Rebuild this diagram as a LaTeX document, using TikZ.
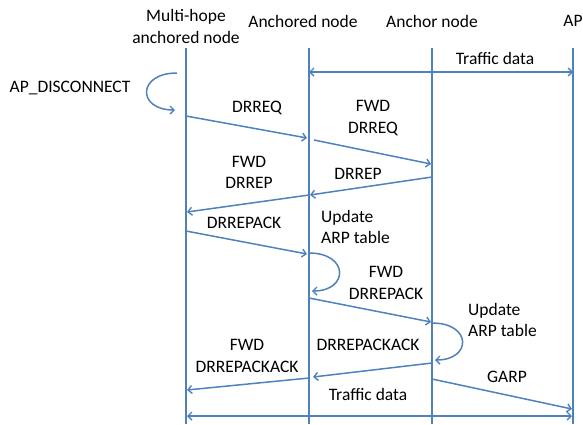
\documentclass[tikz,border=0pt]{standalone}
\usepackage{fontspec}
\setmainfont{Carlito}
\usepackage{tikz}
\usetikzlibrary{arrows.meta}
\definecolor{lineblue}{RGB}{79,129,189}
\newcommand{\msgarrow}{-{Straight Barb[length=4pt,width=8pt,line width=1.4pt]}}
\newcommand{\twoarrow}{{Straight Barb[length=4pt,width=8pt,line width=1.4pt]}-{Straight Barb[length=4pt,width=8pt,line width=1.4pt]}}

\begin{document}
\begin{tikzpicture}[x=1pt,y=-1pt,
        every node/.style={font=\fontsize{17.5}{21.5}\selectfont},
        life/.style={draw=lineblue,line width=1.5pt},
        msg/.style={draw=lineblue,line width=1.5pt,\msgarrow},
        both/.style={draw=lineblue,line width=1.5pt,\twoarrow},
        lbl/.style={align=center,inner sep=0pt},
        note/.style={align=left,inner sep=0pt,anchor=west}]
            \useasboundingbox (0,0) rectangle (583,424);
            % heads
            \node[lbl] (mh) at (186,26.5) {Multi-hope\\anchored node};
            \node[lbl] (ad) at (303,21) {Anchored node};
            \node[lbl] (ar) at (432,21) {Anchor node};
            \node[lbl] (ap) at (573,21) {AP};
            % lifelines
            \coordinate (mh-top) at (186,48);
            \coordinate (mh-bot) at (186,424);
            \coordinate (ad-top) at (309,48);
            \coordinate (ad-bot) at (309,424);
            \coordinate (ar-top) at (432,48);
            \coordinate (ar-bot) at (432,424);
            \coordinate (ap-top) at (573,48);
            \coordinate (ap-bot) at (573,424);
            \draw[life] (mh-top) -- (mh-bot);
            \draw[life] (ad-top) -- (ad-bot);
            \draw[life] (ar-top) -- (ar-bot);
            \draw[life] (ap-top) -- (ap-bot);
            % message end points
            \coordinate (tt-s) at (309,72);
            \coordinate (tt-e) at (573,72);
            \coordinate (dc-s) at (177,73);
            \coordinate (dc-e) at (175,110);
            \coordinate (req-s) at (186,116);
            \coordinate (req-e) at (307,138);
            \coordinate (freq-s) at (314,140);
            \coordinate (freq-e) at (431,164);
            \coordinate (rep-s) at (432,177);
            \coordinate (rep-e) at (310,195);
            \coordinate (frep-s) at (309,195);
            \coordinate (frep-e) at (187,212);
            \coordinate (pack-s) at (186,231);
            \coordinate (pack-e) at (307,254);
            \coordinate (up1-s) at (309,253);
            \coordinate (up1-e) at (312,291);
            \coordinate (fpack-s) at (309,298);
            \coordinate (fpack-e) at (431,322);
            \coordinate (up2-s) at (432,323);
            \coordinate (up2-e) at (435,360);
            \coordinate (ack-s) at (432,363);
            \coordinate (ack-e) at (313,377);
            \coordinate (fack-s) at (309,378);
            \coordinate (fack-e) at (187,390);
            \coordinate (garp-s) at (432,379);
            \coordinate (garp-e) at (572,409);
            \coordinate (tb-s) at (187,416);
            \coordinate (tb-e) at (572,416);
            % messages
            \draw[both] (tt-s) -- (tt-e);
            \draw[msg] (dc-s) .. controls (137,73) and (137,110) .. (dc-e);
            \draw[msg] (req-s) -- (req-e);
            \draw[msg] (freq-s) -- (freq-e);
            \draw[msg] (rep-s) -- (rep-e);
            \draw[msg] (frep-s) -- (frep-e);
            \draw[msg] (pack-s) -- (pack-e);
            \draw[msg] (up1-s) .. controls (349,253) and (349,291) .. (up1-e);
            \draw[msg] (fpack-s) -- (fpack-e);
            \draw[msg] (up2-s) .. controls (472,323) and (472,360) .. (up2-e);
            \draw[msg] (ack-s) -- (ack-e);
            \draw[msg] (fack-s) -- (fack-e);
            \draw[msg] (garp-s) -- (garp-e);
            \draw[both] (tb-s) -- (tb-e);
            % labels
            \node[lbl] (tt-l) at (495,58) {Traffic data};
            \node[lbl] (dc-l) at (70,88) {AP\_DISCONNECT};
            \node[lbl] (req-l) at (257,108) {DRREQ};
            \node[lbl] (freq-l) at (373,118) {FWD\\DRREQ};
            \node[lbl] (rep-l) at (358,174) {DRREP};
            \node[lbl] (frep-l) at (249,172.5) {FWD\\DRREP};
            \node[lbl] (pack-l) at (244,223) {DRREPACK};
            \node[note] (up1-l) at (321,227) {Update\\ARP table};
            \node[lbl] (fpack-l) at (386,283) {FWD\\DRREPACK};
            \node[note] (up2-l) at (468,320) {Update\\ARP table};
            \node[lbl] (ack-l) at (368,345) {DRREPACKACK};
            \node[lbl] (fack-l) at (247,356) {FWD\\DRREPACKACK};
            \node[lbl] (garp-l) at (507,377) {GARP};
            \node[lbl] (tb-l) at (368,394) {Traffic data};
        \end{tikzpicture}
\end{document}
